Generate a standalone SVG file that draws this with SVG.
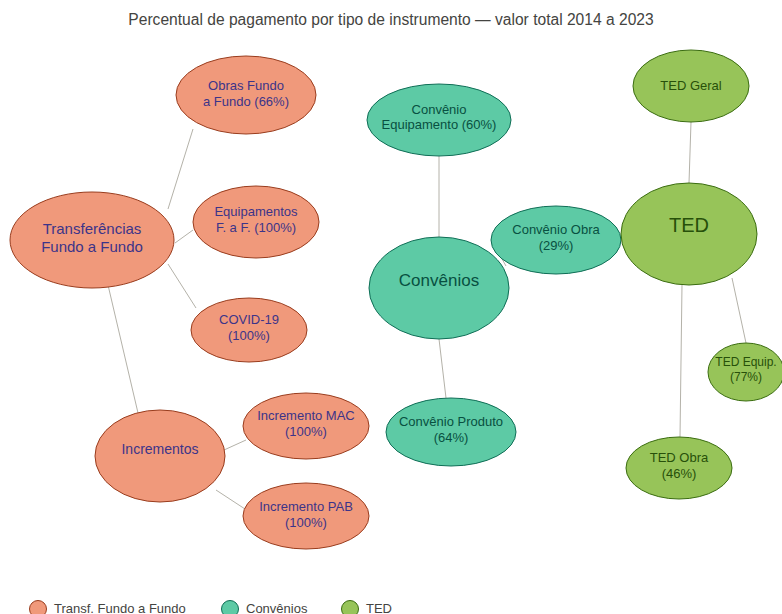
<svg xmlns="http://www.w3.org/2000/svg" width="782" height="614" viewBox="0 0 782 614">
<style>
text{font-family:"Liberation Sans",Arial,sans-serif;text-anchor:middle}
.o{fill:#f0997b;stroke:#993c1d;stroke-width:1}
.t{fill:#5dcaa5;stroke:#0f6e56;stroke-width:1}
.g{fill:#97c459;stroke:#3b6d11;stroke-width:1}
.ot{fill:#3c3489;font-size:13px}
.tt{fill:#085041;font-size:13px}
.gt{fill:#27500a;font-size:13px}
.e{stroke:#b4b2a9;stroke-width:1;fill:none}
.lg{fill:#444441;font-size:13px;text-anchor:start}
</style>
<rect width="782" height="614" fill="#ffffff"/>
<text x="391" y="25" style="font-size:15.6px;fill:#444441">Percentual de pagamento por tipo de instrumento — valor total 2014 a 2023</text>
<g id="edges">
<line class="e" x1="168" y1="209" x2="193" y2="129"/>
<line class="e" x1="175" y1="243" x2="193" y2="230"/>
<line class="e" x1="168" y1="264" x2="196" y2="308"/>
<line class="e" x1="108" y1="285" x2="138" y2="413"/>
<line class="e" x1="224" y1="450" x2="246" y2="440"/>
<line class="e" x1="216" y1="490" x2="245" y2="509"/>
<line class="e" x1="439" y1="156" x2="439" y2="237"/>
<line class="e" x1="501" y1="257" x2="506" y2="266"/>
<line class="e" x1="439" y1="339" x2="446" y2="398"/>
<line class="e" x1="691" y1="122" x2="689" y2="183"/>
<line class="e" x1="682" y1="285" x2="680" y2="437"/>
<line class="e" x1="732" y1="278" x2="746" y2="343"/>
</g>
<g id="transf">
<ellipse class="o" cx="92" cy="240" rx="82" ry="48"/>
<text class="ot" x="92" y="234" style="font-size:15px">Transferências</text>
<text class="ot" x="92" y="252" style="font-size:15px">Fundo a Fundo</text>
</g>
<g id="obras">
<ellipse class="o" cx="246" cy="95" rx="70" ry="39"/>
<text class="ot" x="246" y="90">Obras Fundo</text>
<text class="ot" x="246" y="106">a Fundo (66%)</text>
</g>
<g id="equip">
<ellipse class="o" cx="256" cy="222" rx="63" ry="36"/>
<text class="ot" x="256" y="216">Equipamentos</text>
<text class="ot" x="256" y="232">F. a F. (100%)</text>
</g>
<g id="covid">
<ellipse class="o" cx="249" cy="330" rx="58" ry="32"/>
<text class="ot" x="249" y="324">COVID-19</text>
<text class="ot" x="249" y="340">(100%)</text>
</g>
<g id="incrementos">
<ellipse class="o" cx="160" cy="456" rx="65" ry="46"/>
<text class="ot" x="160" y="454" style="font-size:14px">Incrementos</text>
</g>
<g id="mac">
<ellipse class="o" cx="306" cy="426" rx="63" ry="33"/>
<text class="ot" x="306" y="420">Incremento MAC</text>
<text class="ot" x="306" y="436">(100%)</text>
</g>
<g id="pab">
<ellipse class="o" cx="306" cy="516" rx="63" ry="33"/>
<text class="ot" x="306" y="511">Incremento PAB</text>
<text class="ot" x="306" y="527">(100%)</text>
</g>
<g id="convequip">
<ellipse class="t" cx="439" cy="120" rx="72" ry="36"/>
<text class="tt" x="439" y="114">Convênio</text>
<text class="tt" x="439" y="129">Equipamento (60%)</text>
</g>
<g id="convenios">
<ellipse class="t" cx="439" cy="288" rx="70" ry="51"/>
<text class="tt" x="439" y="286" style="font-size:17px">Convênios</text>
</g>
<g id="convobra">
<ellipse class="t" cx="556" cy="240" rx="65" ry="34"/>
<text class="tt" x="556" y="234">Convênio Obra</text>
<text class="tt" x="556" y="250">(29%)</text>
</g>
<g id="convprod">
<ellipse class="t" cx="451" cy="432" rx="65" ry="34"/>
<text class="tt" x="451" y="426">Convênio Produto</text>
<text class="tt" x="451" y="442">(64%)</text>
</g>
<g id="tedgeral">
<ellipse class="g" cx="691" cy="86" rx="58" ry="36"/>
<text class="gt" x="691" y="90">TED Geral</text>
</g>
<g id="ted">
<ellipse class="g" cx="689" cy="234" rx="68" ry="51"/>
<text class="gt" x="689" y="232" style="font-size:20px">TED</text>
</g>
<g id="tedequip">
<ellipse class="g" cx="746" cy="372" rx="38" ry="29"/>
<text class="gt" x="746" y="366" style="font-size:12px">TED Equip.</text>
<text class="gt" x="746" y="381" style="font-size:12px">(77%)</text>
</g>
<g id="tedobra">
<ellipse class="g" cx="679" cy="468" rx="53" ry="31"/>
<text class="gt" x="679" y="462">TED Obra</text>
<text class="gt" x="679" y="478">(46%)</text>
</g>
<g id="legend">
<circle class="o" cx="38" cy="609" r="8.5"/>
<text class="lg" x="54" y="613">Transf. Fundo a Fundo</text>
<circle class="t" cx="230" cy="609" r="8.5"/>
<text class="lg" x="246" y="613">Convênios</text>
<circle class="g" cx="350" cy="609" r="8.5"/>
<text class="lg" x="366" y="613">TED</text>
</g>
</svg>
